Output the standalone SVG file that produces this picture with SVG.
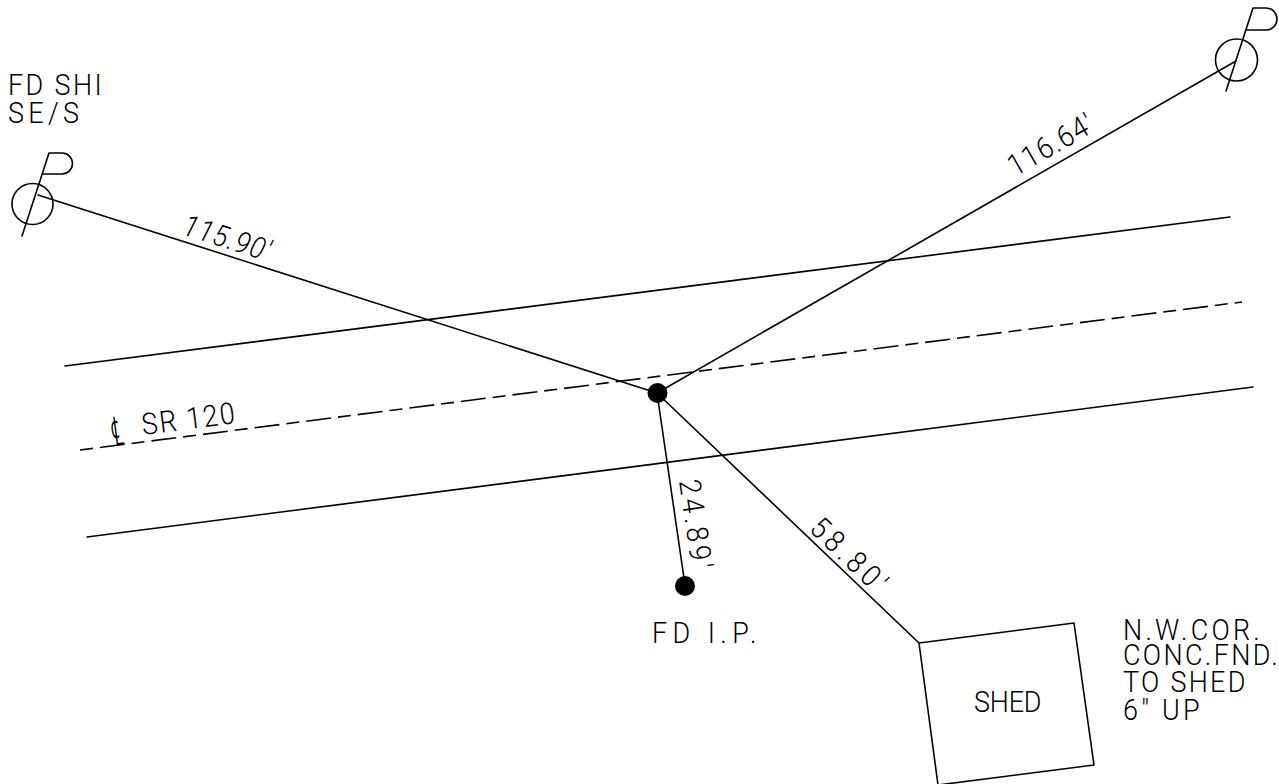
<svg xmlns="http://www.w3.org/2000/svg" width="1279" height="784" viewBox="0 0 1279 784">
<style>
.l{fill:none;stroke:#000;stroke-width:1.6;stroke-linecap:round;stroke-linejoin:round}
.d{stroke-dasharray:13 7 25 7;stroke-linecap:butt}
.p{fill:#000}
text{font-family:"Roboto","Liberation Sans",sans-serif;font-weight:300;font-size:30px;fill:#000}
.i{font-style:italic}
.g{font-family:"DejaVu Sans",sans-serif;font-weight:200;font-size:30px}
</style>
<rect width="1279" height="784" fill="#fff"/>
<g id="connectors">
<path class="l" d="M38 195L657 393"/>
<path class="l" d="M657 393L1236 61"/>
<path class="l" d="M657 393L685 585"/>
<path class="l" d="M657 393L919 643"/>
<path class="l" d="M65 366L1230 217"/>
<path class="l" d="M87 537L1253 387"/>
<path class="l d" d="M80 450L1242 302"/>
</g>
<g id="monument-left">
<circle class="l" cx="32.5" cy="204" r="20.5"/>
<path class="l" d="M22 236L49 153H62A10.500 10.500 0 0 1 62 174H42"/>
<text transform="translate(8 95) scale(.9 1)"><tspan x="0" y="0" textLength="104">FD SHI</tspan><tspan x="0" y="28" textLength="79">SE/S</tspan></text>
</g>
<g id="monument-right">
<circle class="l" cx="1236.500" cy="60" r="21"/>
<path class="l" d="M1226 91L1253 8H1266A11 11 0 0 1 1266 30H1247"/>
</g>
<g id="dim-115"><text class="i" transform="translate(181 234) rotate(17.700) scale(.9 1)" textLength="100">115.90′</text></g>
<g id="dim-116"><text transform="translate(1015 177) rotate(-29.800) scale(.9 1)" textLength="104">116.64′</text></g>
<g id="dim-24"><text transform="translate(679 481) rotate(81.700) scale(.9 1)" textLength="100">24.89′</text></g>
<g id="dim-58"><text transform="translate(808 530) rotate(43.800) scale(.9 1)" textLength="104">58.80′</text></g>
<g id="centerline-label">
<text class="g" transform="translate(113 446) rotate(-7.300) scale(.7 1.35)">℄</text>
<text transform="translate(143 435) rotate(-7.300) scale(.9 1)" textLength="104">SR 120</text>
</g>
<g id="point-center"><circle class="p" cx="657.500" cy="393" r="10"/></g>
<g id="point-ip">
<circle class="p" cx="685" cy="586" r="10"/>
<text transform="translate(652 643) scale(.9 1)" textLength="116">FD I.P.</text>
</g>
<g id="shed">
<path class="l" d="M919 643L1074 623L1094 765L938 785Z"/>
<text transform="translate(974 712) scale(.9 1)" textLength="75">SHED</text>
</g>
<g id="shed-note">
<text transform="translate(1123 640) scale(.9 1)"><tspan x="0" y="0" textLength="152">N.W.COR.</tspan><tspan x="0" y="25" textLength="172">CONC.FND.</tspan><tspan x="0" y="52" textLength="136">TO SHED</tspan><tspan x="0" y="80" textLength="85">6″ UP</tspan></text>
</g>
</svg>
